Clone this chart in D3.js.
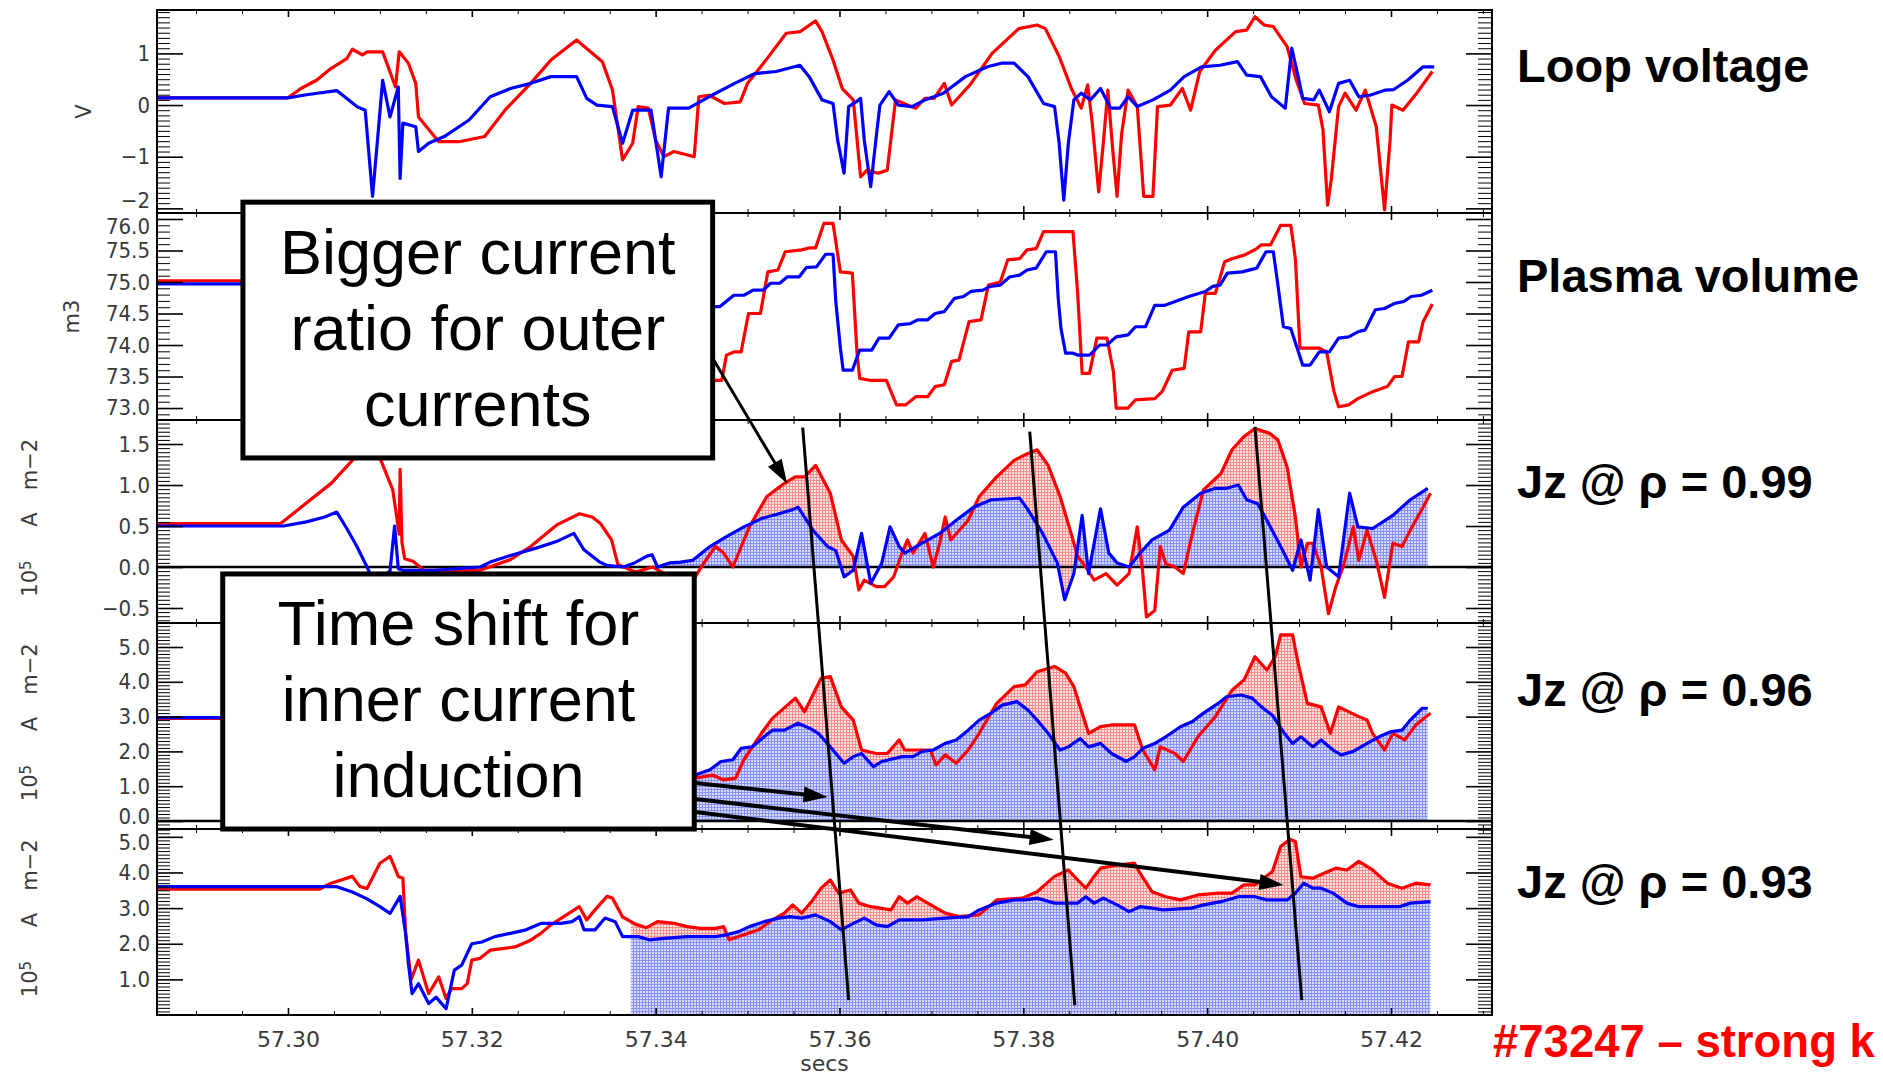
<!DOCTYPE html>
<html>
<head>
<meta charset="utf-8">
<script src="https://cdn.jsdelivr.net/npm/d3@7"></script>
<style>
  body { margin: 0; background: #fff; }
  svg { display: block; }
  .tick line { stroke: #000; }
  .ylab text { font-family: "Liberation Sans Narrow", "DejaVu Sans Condensed", sans-serif; font-size: 22px; fill: #3a3a3a; }
  .xlab text { font-family: "DejaVu Sans", sans-serif; font-size: 22px; fill: #3a3a3a; }
  .unit { font-family: "DejaVu Sans", sans-serif; font-size: 21px; fill: #3a3a3a; }
  .name { font-family: "Liberation Sans", Arial, sans-serif; font-weight: bold; font-size: 47px; fill: #000; }
  .note { font-family: "Liberation Sans", Arial, sans-serif; font-size: 63px; fill: #000; }
</style>
</head>
<body>
<svg width="1883" height="1077"></svg>
<script>
// time axis (secs)
var timeTicks = [57.30, 57.32, 57.34, 57.36, 57.38, 57.40, 57.42];

// y tick values per panel
var loopTicks = [-2, -1, 0, 1];
var volTicks = [73.0, 73.5, 74.0, 74.5, 75.0, 75.5, 76.0];
var jz99Ticks = [-0.5, 0.0, 0.5, 1.0, 1.5];
var jz96Ticks = [0, 1, 2, 3, 4, 5];
var jz93Ticks = [1, 2, 3, 4, 5];

var panelNames = ["Loop voltage", "Plasma volume", "Jz @ \u03c1 = 0.99", "Jz @ \u03c1 = 0.96", "Jz @ \u03c1 = 0.93"];
var shotLabel = "#73247 \u2013 strong k";

// [time (s), value]
var loopRed = [[57.2858,0.14],[57.3000,0.14],[57.3014,0.32],[57.3031,0.48],[57.3047,0.71],[57.3064,0.90],[57.3070,1.08],[57.3081,0.97],[57.3086,1.03],[57.3103,1.03],[57.3117,0.35],[57.3121,1.03],[57.3131,0.81],[57.3139,0.42],[57.3142,-0.23],[57.3164,-0.71],[57.3186,-0.71],[57.3214,-0.61],[57.3236,-0.10],[57.3264,0.42],[57.3286,0.87],[57.3314,1.26],[57.3342,0.84],[57.3353,0.29],[57.3364,-1.06],[57.3375,-0.74],[57.3381,-0.03],[57.3392,-0.06],[57.3400,-0.68],[57.3409,-1.00],[57.3420,-0.90],[57.3442,-1.00],[57.3447,0.16],[57.3458,0.19],[57.3475,0.03],[57.3492,0.06],[57.3500,0.42],[57.3520,0.87],[57.3542,1.39],[57.3557,1.42],[57.3574,1.63],[57.3581,1.42],[57.3593,0.87],[57.3603,0.32],[57.3615,0.10],[57.3623,-1.39],[57.3630,-1.26],[57.3642,-1.32],[57.3652,-1.26],[57.3661,0.10],[57.3674,0.00],[57.3683,-0.06],[57.3693,0.13],[57.3703,0.13],[57.3714,0.42],[57.3722,0.00],[57.3742,0.39],[57.3766,1.00],[57.3795,1.48],[57.3815,1.55],[57.3824,1.48],[57.3839,0.94],[57.3853,0.29],[57.3863,-0.06],[57.3870,0.39],[57.3875,-0.35],[57.3882,-1.68],[57.3888,-0.55],[57.3892,0.29],[57.3897,-0.81],[57.3902,-1.77],[57.3907,-0.55],[57.3914,0.29],[57.3924,-0.03],[57.3931,-1.77],[57.3941,-1.77],[57.3946,-0.03],[57.3960,0.00],[57.3973,0.32],[57.3982,-0.10],[57.3992,0.65],[57.4009,1.06],[57.4031,1.42],[57.4043,1.45],[57.4052,1.71],[57.4062,1.55],[57.4072,1.52],[57.4087,1.13],[57.4097,0.48],[57.4106,0.03],[57.4121,0.00],[57.4126,-0.48],[57.4131,-1.94],[57.4135,-1.45],[57.4143,-0.03],[57.4150,0.23],[57.4162,-0.10],[57.4172,0.29],[57.4184,-0.42],[57.4193,-2.03],[57.4199,-0.68],[57.4201,0.00],[57.4213,-0.10],[57.4228,0.23],[57.4245,0.65]];
var loopBlue = [[57.2858,0.14],[57.3000,0.14],[57.3020,0.20],[57.3053,0.28],[57.3075,-0.03],[57.3084,-0.10],[57.3092,-1.77],[57.3098,-0.55],[57.3103,0.48],[57.3111,-0.23],[57.3120,0.35],[57.3122,-1.42],[57.3125,-0.35],[57.3139,-0.42],[57.3142,-0.90],[57.3153,-0.74],[57.3170,-0.61],[57.3197,-0.29],[57.3220,0.16],[57.3242,0.32],[57.3264,0.42],[57.3286,0.55],[57.3314,0.55],[57.3325,0.13],[57.3336,0.00],[57.3353,-0.03],[57.3364,-0.74],[57.3375,-0.10],[57.3395,-0.10],[57.3406,-1.39],[57.3414,-0.06],[57.3436,-0.06],[57.3458,0.16],[57.3486,0.42],[57.3508,0.61],[57.3531,0.65],[57.3557,0.77],[57.3567,0.55],[57.3581,0.10],[57.3593,0.03],[57.3598,-0.68],[57.3605,-1.32],[57.3610,-0.03],[57.3618,0.06],[57.3623,0.13],[57.3627,-0.68],[57.3634,-1.58],[57.3640,-0.61],[57.3644,0.00],[57.3654,0.26],[57.3664,0.00],[57.3679,-0.03],[57.3693,0.10],[57.3713,0.23],[57.3737,0.55],[57.3761,0.74],[57.3776,0.81],[57.3790,0.81],[57.3805,0.55],[57.3822,0.03],[57.3834,-0.03],[57.3839,-0.74],[57.3844,-1.84],[57.3849,-0.74],[57.3855,0.10],[57.3863,0.23],[57.3873,0.10],[57.3884,0.32],[57.3895,-0.06],[57.3905,-0.06],[57.3914,0.16],[57.3924,-0.03],[57.3941,0.10],[57.3960,0.29],[57.3975,0.55],[57.3994,0.74],[57.4014,0.77],[57.4033,0.84],[57.4043,0.58],[57.4058,0.55],[57.4070,0.16],[57.4085,-0.06],[57.4092,1.10],[57.4099,0.55],[57.4104,0.13],[57.4116,0.10],[57.4122,0.29],[57.4133,-0.13],[57.4143,0.42],[57.4155,0.48],[57.4165,0.16],[57.4177,0.19],[57.4194,0.29],[57.4203,0.30],[57.4218,0.48],[57.4235,0.74],[57.4247,0.74]];

var volRed = [[57.2858,75.02],[57.2960,75.02],[57.3440,73.44],[57.3462,73.44],[57.3472,73.44],[57.3477,73.84],[57.3485,73.89],[57.3493,73.89],[57.3501,74.50],[57.3514,74.50],[57.3522,75.16],[57.3533,75.19],[57.3541,75.48],[57.3559,75.51],[57.3567,75.54],[57.3574,75.54],[57.3583,75.93],[57.3593,75.93],[57.3601,75.16],[57.3614,75.14],[57.3619,73.89],[57.3622,73.47],[57.3633,73.44],[57.3651,73.44],[57.3662,73.05],[57.3672,73.05],[57.3683,73.18],[57.3696,73.18],[57.3704,73.34],[57.3714,73.37],[57.3722,73.74],[57.3730,73.76],[57.3741,74.37],[57.3754,74.40],[57.3762,74.95],[57.3775,75.00],[57.3783,75.35],[57.3796,75.37],[57.3804,75.51],[57.3814,75.53],[57.3822,75.80],[57.3854,75.80],[57.3859,74.85],[57.3864,73.55],[57.3872,73.55],[57.3880,74.11],[57.3891,74.11],[57.3898,73.58],[57.3901,73.00],[57.3914,73.00],[57.3922,73.13],[57.3943,73.15],[57.3951,73.26],[57.3962,73.60],[57.3975,73.63],[57.3980,74.21],[57.3993,74.21],[57.3998,74.82],[57.4009,74.82],[57.4019,75.32],[57.4027,75.37],[57.4041,75.43],[57.4054,75.53],[57.4059,75.59],[57.4069,75.59],[57.4080,75.90],[57.4091,75.90],[57.4096,75.37],[57.4101,73.95],[57.4122,73.95],[57.4130,73.89],[57.4138,73.26],[57.4143,73.02],[57.4154,73.05],[57.4164,73.15],[57.4180,73.26],[57.4196,73.34],[57.4204,73.50],[57.4212,73.50],[57.4219,74.05],[57.4230,74.05],[57.4235,74.37],[57.4245,74.65]];
var volBlue = [[57.2858,74.97],[57.2960,74.97],[57.3440,74.61],[57.3470,74.61],[57.3485,74.79],[57.3496,74.79],[57.3506,74.87],[57.3517,74.87],[57.3525,74.98],[57.3535,74.98],[57.3543,75.08],[57.3556,75.08],[57.3564,75.23],[57.3575,75.24],[57.3585,75.44],[57.3593,75.44],[57.3596,74.69],[57.3601,73.95],[57.3604,73.60],[57.3614,73.60],[57.3622,73.92],[57.3635,73.92],[57.3643,74.11],[57.3654,74.11],[57.3664,74.32],[57.3677,74.34],[57.3685,74.40],[57.3696,74.40],[57.3704,74.50],[57.3714,74.53],[57.3725,74.74],[57.3735,74.77],[57.3743,74.85],[57.3756,74.87],[57.3764,74.93],[57.3775,74.95],[57.3785,75.08],[57.3796,75.11],[57.3804,75.19],[57.3814,75.22],[57.3825,75.48],[57.3835,75.48],[57.3838,74.74],[57.3841,74.26],[57.3846,73.87],[57.3854,73.87],[57.3859,73.84],[57.3872,73.84],[57.3883,74.00],[57.3891,74.00],[57.3901,74.13],[57.3914,74.16],[57.3922,74.29],[57.3933,74.29],[57.3943,74.63],[57.3954,74.63],[57.3969,74.71],[57.3980,74.77],[57.3998,74.85],[57.4006,74.93],[57.4014,74.95],[57.4022,75.14],[57.4038,75.16],[57.4054,75.22],[57.4064,75.48],[57.4072,75.48],[57.4077,74.95],[57.4083,74.29],[57.4091,74.26],[57.4098,73.95],[57.4104,73.68],[57.4112,73.68],[57.4122,73.89],[57.4133,73.89],[57.4143,74.11],[57.4154,74.13],[57.4164,74.21],[57.4172,74.24],[57.4183,74.56],[57.4193,74.58],[57.4204,74.66],[57.4214,74.69],[57.4222,74.77],[57.4233,74.79],[57.4245,74.87]];

var jz99Red = [[57.2858,0.53],[57.2992,0.53],[57.3020,0.78],[57.3047,1.02],[57.3070,1.30],[57.3085,1.60],[57.3100,1.33],[57.3114,0.94],[57.3121,0.40],[57.3122,1.19],[57.3124,0.30],[57.3127,0.10],[57.3136,0.07],[57.3148,-0.04],[57.3209,-0.04],[57.3242,0.09],[57.3264,0.25],[57.3292,0.51],[57.3317,0.65],[57.3331,0.61],[57.3340,0.53],[57.3352,0.33],[57.3359,0.03],[57.3378,-0.06],[57.3397,0.00],[57.3420,-0.15],[57.3443,-0.12],[57.3452,0.04],[57.3465,0.25],[57.3474,0.17],[57.3484,0.00],[57.3502,0.49],[57.3521,0.86],[57.3540,1.02],[57.3552,1.10],[57.3562,1.10],[57.3574,1.24],[57.3590,0.90],[57.3602,0.33],[57.3615,0.13],[57.3621,-0.28],[57.3627,-0.16],[57.3640,-0.24],[57.3649,-0.24],[57.3659,-0.12],[57.3668,0.17],[57.3674,0.33],[57.3680,0.17],[57.3693,0.41],[57.3702,0.00],[57.3709,0.29],[57.3715,0.61],[57.3721,0.33],[57.3740,0.57],[57.3752,0.86],[57.3771,1.10],[57.3790,1.30],[57.3802,1.37],[57.3815,1.43],[57.3827,1.24],[57.3840,0.86],[57.3852,0.41],[57.3859,0.13],[57.3868,0.00],[57.3877,-0.16],[57.3890,-0.08],[57.3902,-0.22],[57.3915,-0.08],[57.3924,0.49],[57.3930,-0.08],[57.3934,-0.61],[57.3943,-0.53],[57.3949,0.25],[57.3955,0.04],[57.3965,0.00],[57.3974,-0.08],[57.3984,0.41],[57.3996,0.94],[57.4015,1.14],[57.4027,1.43],[57.4040,1.59],[57.4052,1.69],[57.4068,1.63],[57.4077,1.55],[57.4087,1.22],[57.4096,0.61],[57.4102,0.00],[57.4109,0.29],[57.4115,0.29],[57.4124,0.00],[57.4132,-0.57],[57.4140,-0.24],[57.4149,0.04],[57.4159,0.49],[57.4165,0.08],[57.4174,0.45],[57.4184,0.08],[57.4193,-0.37],[57.4202,0.29],[57.4212,0.25],[57.4221,0.45],[57.4233,0.69],[57.4243,0.90]];
var jz99Blue = [[57.2858,0.50],[57.2995,0.50],[57.3020,0.55],[57.3040,0.61],[57.3053,0.67],[57.3064,0.47],[57.3075,0.25],[57.3086,0.00],[57.3092,-0.15],[57.3105,-0.10],[57.3111,-0.05],[57.3116,0.50],[57.3120,-0.02],[57.3125,-0.04],[57.3159,-0.04],[57.3209,0.00],[57.3220,0.06],[57.3242,0.14],[57.3270,0.23],[57.3292,0.31],[57.3311,0.41],[57.3322,0.21],[57.3339,0.06],[57.3347,0.02],[57.3365,0.00],[57.3377,0.05],[57.3390,0.13],[57.3396,0.15],[57.3402,0.00],[57.3415,0.05],[57.3427,0.06],[57.3440,0.08],[57.3459,0.25],[57.3477,0.37],[57.3496,0.49],[57.3515,0.59],[57.3534,0.65],[57.3549,0.70],[57.3555,0.73],[57.3571,0.45],[57.3587,0.25],[57.3596,0.20],[57.3605,-0.12],[57.3615,-0.04],[57.3624,0.41],[57.3634,-0.20],[57.3646,0.05],[57.3655,0.49],[57.3665,0.25],[57.3671,0.17],[57.3690,0.29],[57.3709,0.41],[57.3727,0.57],[57.3746,0.73],[57.3765,0.82],[57.3796,0.84],[57.3805,0.70],[57.3821,0.41],[57.3837,0.05],[57.3845,-0.40],[57.3855,-0.08],[57.3864,0.63],[57.3871,-0.08],[57.3884,0.71],[57.3893,0.17],[57.3902,0.05],[57.3915,0.00],[57.3927,0.17],[57.3940,0.33],[57.3959,0.45],[57.3974,0.73],[57.3993,0.90],[57.4009,0.96],[57.4021,0.96],[57.4034,1.00],[57.4043,0.82],[57.4055,0.77],[57.4065,0.57],[57.4080,0.25],[57.4093,-0.04],[57.4102,0.33],[57.4112,-0.16],[57.4121,0.70],[57.4130,0.00],[57.4143,-0.12],[57.4155,0.90],[57.4164,0.49],[57.4180,0.47],[57.4202,0.63],[57.4221,0.82],[57.4240,0.96]];

var jz96Red = [[57.2858,2.95],[57.2930,2.95],[57.3380,1.20],[57.3443,1.23],[57.3462,1.32],[57.3474,1.18],[57.3487,1.23],[57.3496,1.76],[57.3515,2.52],[57.3527,2.95],[57.3552,3.53],[57.3562,3.14],[57.3580,4.10],[57.3590,4.15],[57.3602,3.28],[57.3615,2.90],[57.3624,2.04],[57.3640,1.94],[57.3652,1.94],[57.3665,2.33],[57.3671,2.04],[57.3699,2.04],[57.3705,1.61],[57.3715,1.90],[57.3727,1.66],[57.3740,2.04],[57.3752,2.52],[57.3771,3.38],[57.3790,3.86],[57.3802,3.91],[57.3815,4.29],[57.3834,4.44],[57.3846,4.25],[57.3855,3.86],[57.3871,2.52],[57.3884,2.71],[57.3896,2.76],[57.3921,2.76],[57.3930,2.04],[57.3943,1.47],[57.3949,2.13],[57.3965,1.94],[57.3974,1.71],[57.3990,2.42],[57.4009,3.00],[57.4027,3.76],[57.4040,4.05],[57.4052,4.72],[57.4065,4.34],[57.4074,4.72],[57.4080,5.35],[57.4093,5.35],[57.4099,4.53],[57.4109,3.38],[57.4124,3.28],[57.4134,2.52],[57.4143,3.28],[57.4165,3.00],[57.4174,2.90],[57.4180,2.52],[57.4193,2.04],[57.4202,2.52],[57.4215,2.33],[57.4227,2.76],[57.4243,3.10]];
var jz96Blue = [[57.2858,2.97],[57.2930,2.97],[57.3380,1.10],[57.3443,1.32],[57.3459,1.47],[57.3471,1.71],[57.3484,1.76],[57.3493,2.09],[57.3505,2.13],[57.3518,2.42],[57.3527,2.61],[57.3540,2.61],[57.3555,2.81],[57.3568,2.66],[57.3577,2.52],[57.3590,2.13],[57.3605,1.66],[57.3615,1.85],[57.3624,1.94],[57.3637,1.56],[57.3646,1.71],[57.3668,1.85],[57.3680,1.85],[57.3690,2.00],[57.3702,2.04],[57.3715,2.23],[57.3727,2.33],[57.3740,2.61],[57.3752,2.90],[57.3765,3.10],[57.3777,3.33],[57.3793,3.43],[57.3805,3.19],[57.3815,2.90],[57.3827,2.52],[57.3840,2.04],[57.3849,2.13],[57.3862,2.37],[57.3871,2.13],[57.3884,2.23],[57.3896,1.94],[57.3912,1.71],[57.3921,1.85],[57.3930,2.09],[57.3943,2.23],[57.3955,2.42],[57.3971,2.71],[57.3984,2.86],[57.3996,3.10],[57.4012,3.38],[57.4021,3.57],[57.4037,3.62],[57.4049,3.53],[57.4059,3.28],[57.4071,3.04],[57.4084,2.52],[57.4093,2.23],[57.4102,2.42],[57.4115,2.13],[57.4124,2.33],[57.4137,2.04],[57.4146,1.90],[57.4159,2.00],[57.4174,2.23],[57.4187,2.42],[57.4199,2.56],[57.4212,2.61],[57.4221,2.90],[57.4234,3.24],[57.4240,3.24]];

var jz93Red = [[57.2858,3.53],[57.3034,3.53],[57.3047,3.70],[57.3070,3.89],[57.3078,3.61],[57.3086,3.55],[57.3100,4.26],[57.3111,4.45],[57.3120,3.89],[57.3125,3.84],[57.3128,2.29],[57.3134,1.00],[57.3142,1.54],[57.3153,0.60],[57.3164,1.07],[57.3172,0.46],[57.3178,0.74],[57.3189,0.74],[57.3195,0.88],[57.3200,1.54],[57.3209,1.59],[57.3220,1.82],[57.3247,1.91],[57.3264,2.10],[57.3275,2.29],[57.3286,2.53],[57.3297,2.71],[57.3317,3.04],[57.3325,2.67],[57.3334,2.95],[57.3347,3.33],[57.3353,3.28],[57.3364,2.75],[57.3378,2.55],[57.3390,2.45],[57.3402,2.62],[57.3421,2.57],[57.3434,2.48],[57.3449,2.43],[57.3465,2.43],[57.3474,2.48],[57.3480,2.11],[57.3496,2.25],[57.3512,2.39],[57.3527,2.67],[57.3540,2.86],[57.3549,3.09],[57.3559,2.86],[57.3571,3.23],[57.3580,3.56],[57.3590,3.79],[57.3599,3.42],[57.3612,3.51],[57.3621,3.14],[57.3634,3.04],[57.3656,2.95],[57.3665,3.32],[57.3674,3.14],[57.3684,3.32],[57.3696,3.14],[57.3715,2.86],[57.3730,2.76],[57.3752,2.81],[57.3771,3.23],[57.3799,3.28],[57.3815,3.46],[57.3834,3.89],[57.3849,4.07],[57.3859,3.79],[57.3868,3.56],[57.3877,3.89],[57.3884,4.12],[57.3902,4.21],[57.3921,4.26],[57.3927,3.98],[57.3940,3.46],[57.3955,3.32],[57.3971,3.23],[57.3990,3.37],[57.4012,3.42],[57.4027,3.42],[57.4040,3.65],[57.4052,3.65],[57.4071,4.03],[57.4080,4.73],[57.4090,4.93],[57.4096,4.87],[57.4102,3.88],[57.4115,3.84],[57.4127,3.98],[57.4140,4.12],[57.4152,4.07],[57.4165,4.31],[57.4180,4.07],[57.4196,3.70],[57.4212,3.56],[57.4227,3.70],[57.4243,3.65]];
var jz93Blue = [[57.2858,3.60],[57.3053,3.60],[57.3070,3.45],[57.3086,3.26],[57.3100,3.04],[57.3111,2.85],[57.3122,3.33],[57.3128,2.29],[57.3131,1.45],[57.3135,0.60],[57.3142,0.88],[57.3153,0.32],[57.3161,0.50],[57.3172,0.18],[57.3181,1.26],[57.3189,1.40],[57.3200,2.00],[57.3211,2.05],[57.3225,2.20],[57.3242,2.29],[57.3259,2.39],[57.3275,2.57],[57.3297,2.57],[57.3309,2.62],[57.3317,2.76],[57.3322,2.39],[57.3334,2.39],[57.3345,2.72],[57.3356,2.62],[57.3364,2.20],[57.3381,2.20],[57.3393,2.11],[57.3409,2.15],[57.3434,2.20],[57.3465,2.20],[57.3477,2.25],[57.3490,2.34],[57.3502,2.48],[57.3518,2.62],[57.3534,2.72],[57.3546,2.76],[57.3559,2.72],[57.3574,2.81],[57.3590,2.62],[57.3602,2.39],[57.3615,2.57],[57.3627,2.72],[57.3640,2.53],[57.3652,2.48],[57.3665,2.67],[57.3690,2.67],[57.3715,2.72],[57.3740,2.76],[57.3752,2.95],[57.3771,3.14],[57.3790,3.23],[57.3802,3.23],[57.3815,3.28],[57.3834,3.14],[57.3859,3.14],[57.3868,3.32],[57.3877,3.14],[57.3887,3.28],[57.3902,3.09],[57.3915,2.90],[57.3927,3.04],[57.3940,3.00],[57.3952,2.95],[57.3983,3.00],[57.3996,3.09],[57.4015,3.18],[57.4034,3.32],[57.4052,3.32],[57.4065,3.23],[57.4087,3.23],[57.4096,3.42],[57.4105,3.70],[57.4115,3.56],[57.4124,3.56],[57.4137,3.42],[57.4152,3.14],[57.4165,3.04],[57.4209,3.04],[57.4221,3.14],[57.4243,3.18]];

// annotations, anchored as [panel index, time, value]
var noteBoxes = [
  {lines: ["Bigger current", "ratio for outer", "currents"], from: [0, 57.2951, -1.88], to: [2, 57.3462, 1.33]},
  {lines: ["Time shift for", "inner current", "induction"], from: [2, 57.2929, -0.085], to: [3, 57.3442, -0.23]}
];
var noteArrows = [
  {from: [1, 57.3462, 73.79], to: [2, 57.3543, 1.02], w: 3},
  {from: [3, 57.3443, 1.09], to: [3, 57.3587, 0.69], w: 4},
  {from: [3, 57.3443, 0.63], to: [4, 57.3833, 4.92], w: 4},
  {from: [3, 57.3443, 0.26], to: [4, 57.4083, 3.65], w: 4}
];
var guideLines = [
  {from: [2, 57.3560, 1.70], to: [4, 57.3610, 0.42]},
  {from: [2, 57.3807, 1.65], to: [4, 57.3856, 0.28]},
  {from: [2, 57.4052, 1.71], to: [4, 57.4103, 0.42]}
];

var svg = d3.select("svg"),
    width = +svg.attr("width"),
    height = +svg.attr("height");

var left = 157, right = 1492;
var x = d3.scaleLinear().domain([57.28575, 57.43099]).range([left, right]);

var panels = [
  {red: loopRed, blue: loopBlue, top: 10, bottom: 213, domain: [-2.09, 1.84], ticks: loopTicks, fmt: "d", minor: 0.1, unit: "V", unitX: 84, nameAt: 0.45},
  {red: volRed, blue: volBlue, top: 213, bottom: 420, domain: [72.81, 76.095], ticks: volTicks, fmt: ".1f", minor: 0.1, unit: "m3", unitX: 72, nameAt: 74.84},
  {red: jz99Red, blue: jz99Blue, top: 420, bottom: 623, domain: [-0.683, 1.793], ticks: jz99Ticks, fmt: ".1f", minor: 0.05, zero: true, fillFrom: 57.3400, nameAt: 0.84},
  {red: jz96Red, blue: jz96Blue, top: 623, bottom: 829, domain: [-0.23, 5.69], ticks: jz96Ticks, fmt: ".1f", minor: 0.1, zero: true, fillFrom: 57.3380, nameAt: 3.30},
  {red: jz93Red, blue: jz93Blue, top: 829, bottom: 1015, domain: [0, 5.22], ticks: jz93Ticks, fmt: ".1f", minor: 0.1, fillFrom: 57.3373, nameAt: 3.29}
];

var defs = svg.append("defs");

function hatch(id, bg, fg) {
  var p = defs.append("pattern").attr("id", id)
      .attr("width", 3).attr("height", 3)
      .attr("patternUnits", "userSpaceOnUse");
  p.append("rect").attr("width", 3).attr("height", 3).attr("fill", bg);
  p.append("path").attr("d", "M0,0.5H3M0.5,0V3").attr("stroke", fg).attr("stroke-width", 1);
}
hatch("hatchBlue", "#d8dafc", "#8890f0");
hatch("hatchRed", "#fde2e2", "#f29090");

function lerp(series) {
  var bis = d3.bisector(function(d) { return d[0]; }).right;
  return function(t) {
    var i = bis(series, t);
    if (i <= 0) return series[0][1];
    if (i >= series.length) return series[series.length - 1][1];
    var a = series[i - 1], b = series[i];
    return a[1] + (b[1] - a[1]) * (t - a[0]) / (b[0] - a[0]);
  };
}

// region between two series where hi is above lo: [t, lo, max(hi, lo)]
function band(lo, hi, t0, t1) {
  var fl = lerp(lo), fh = lerp(hi);
  var ts = lo.concat(hi).map(function(d) { return d[0]; })
      .filter(function(t) { return t > t0 && t < t1; });
  ts.push(t0, t1);
  ts = Array.from(new Set(ts)).sort(d3.ascending);
  var out = [];
  ts.forEach(function(t, k) {
    var gap = fh(t) - fl(t);
    if (k > 0) {
      var tp = ts[k - 1], gp = fh(tp) - fl(tp);
      if (gp * gap < 0) {
        var tc = tp + (t - tp) * gp / (gp - gap);
        out.push([tc, fl(tc), fl(tc)]);
      }
    }
    out.push([t, fl(t), Math.max(fh(t), fl(t))]);
  });
  return out;
}

function minorValues(domain, step, majors) {
  var a = Math.ceil(domain[0] / step), b = Math.floor(domain[1] / step);
  return d3.range(a, b + 1).map(function(k) { return +(k * step).toFixed(4); })
      .filter(function(v) { return majors.indexOf(v) < 0; });
}

var timeMinor = minorValues(x.domain(), 0.005, timeTicks);

function noDomain(g) { g.select(".domain").remove(); }

panels.forEach(function(p, i) {
  p.y = d3.scaleLinear().domain(p.domain).range([p.bottom, p.top]);

  defs.append("clipPath").attr("id", "clip" + i)
    .append("rect")
      .attr("x", left).attr("y", p.top)
      .attr("width", right - left).attr("height", p.bottom - p.top);

  var g = svg.append("g").attr("clip-path", "url(#clip" + i + ")");

  if (p.fillFrom) {
    var end = Math.min(p.red[p.red.length - 1][0], p.blue[p.blue.length - 1][0]);
    var zeroLine = [[p.fillFrom, 0], [end, 0]];
    var area = d3.area()
        .x(function(d) { return x(d[0]); })
        .y0(function(d) { return p.y(d[1]); })
        .y1(function(d) { return p.y(d[2]); });
    g.append("path").datum(band(zeroLine, p.blue, p.fillFrom, end))
        .attr("d", area).attr("fill", "url(#hatchBlue)");
    g.append("path").datum(band(p.blue, p.red, p.fillFrom, end))
        .attr("d", area).attr("fill", "url(#hatchRed)");
  }

  if (p.zero) {
    g.append("line")
        .attr("x1", left).attr("x2", right)
        .attr("y1", p.y(0)).attr("y2", p.y(0))
        .attr("stroke", "#000").attr("stroke-width", 2.5);
  }

  var line = d3.line()
      .x(function(d) { return x(d[0]); })
      .y(function(d) { return p.y(d[1]); });

  g.append("path").datum(p.red)
      .attr("d", line).attr("fill", "none")
      .attr("stroke", "#ff0000").attr("stroke-width", 3.2)
      .attr("stroke-linejoin", "round");
  g.append("path").datum(p.blue)
      .attr("d", line).attr("fill", "none")
      .attr("stroke", "#0000ff").attr("stroke-width", 3.2)
      .attr("stroke-linejoin", "round");

  // axes, IDL style: ticks pointing inward on all four sides
  var minors = minorValues(p.domain, p.minor, p.ticks);

  var yl = svg.append("g").attr("class", "ylab")
      .attr("transform", "translate(" + left + ",0)")
      .call(d3.axisLeft(p.y).tickValues(p.ticks).tickSize(-26).tickPadding(7)
          .tickFormat(d3.format(p.fmt)))
      .call(noDomain);
  yl.selectAll("line").attr("stroke-width", 1.6);
  // keep labels sitting on a panel edge from running into the neighbour's
  yl.selectAll("text").attr("y", function(d) {
    var py = p.y(d);
    if (py - p.top < 13) return 13 - (py - p.top);
    if (p.bottom - py < 13) return -(13 - (p.bottom - py));
    return 0;
  });
  svg.append("g")
      .attr("transform", "translate(" + left + ",0)")
      .call(d3.axisLeft(p.y).tickValues(minors).tickSize(-13).tickFormat(""))
      .call(noDomain);
  svg.append("g")
      .attr("transform", "translate(" + right + ",0)")
      .call(d3.axisRight(p.y).tickValues(p.ticks).tickSize(-26).tickFormat(""))
      .call(noDomain)
      .selectAll("line").attr("stroke-width", 1.6);
  svg.append("g")
      .attr("transform", "translate(" + right + ",0)")
      .call(d3.axisRight(p.y).tickValues(minors).tickSize(-14).tickFormat(""))
      .call(noDomain);

  svg.append("g")
      .attr("transform", "translate(0," + p.top + ")")
      .call(d3.axisTop(x).tickValues(timeTicks).tickSize(-7).tickFormat(""))
      .call(noDomain)
      .selectAll("line").attr("stroke-width", 1.6);
  svg.append("g")
      .attr("transform", "translate(0," + p.top + ")")
      .call(d3.axisTop(x).tickValues(timeMinor).tickSize(-4).tickFormat(""))
      .call(noDomain);

  var last = i === panels.length - 1;
  svg.append("g").attr("class", "xlab")
      .attr("transform", "translate(0," + p.bottom + ")")
      .call(d3.axisBottom(x).tickValues(timeTicks).tickSize(-7).tickPadding(16)
          .tickFormat(last ? d3.format(".2f") : ""))
      .call(noDomain)
      .selectAll("line").attr("stroke-width", 1.6);
  svg.append("g")
      .attr("transform", "translate(0," + p.bottom + ")")
      .call(d3.axisBottom(x).tickValues(timeMinor).tickSize(-4).tickFormat(""))
      .call(noDomain);

  svg.append("rect")
      .attr("x", left).attr("y", p.top)
      .attr("width", right - left).attr("height", p.bottom - p.top)
      .attr("fill", "none").attr("stroke", "#000").attr("stroke-width", 2);

  // y-axis title
  var cy = (p.top + p.bottom) / 2;
  if (p.unit) {
    svg.append("text").attr("class", "unit")
        .attr("transform", "translate(" + p.unitX + "," + cy + ") rotate(-90)")
        .attr("text-anchor", "middle").attr("dy", "0.35em")
        .text(p.unit);
  } else {
    var u = svg.append("g").attr("transform", "translate(30," + cy + ") rotate(-90)");
    var t1 = u.append("text").attr("class", "unit").attr("x", -57)
        .attr("text-anchor", "middle").attr("dy", "0.35em");
    t1.append("tspan").text("10");
    t1.append("tspan").attr("dy", "-0.45em").attr("font-size", "15px").text("5");
    u.append("text").attr("class", "unit").attr("x", 2)
        .attr("text-anchor", "middle").attr("dy", "0.35em").text("A");
    u.append("text").attr("class", "unit").attr("x", 57)
        .attr("text-anchor", "middle").attr("dy", "0.35em").text("m\u22122");
  }

  // panel name on the right
  svg.append("text").attr("class", "name")
      .attr("x", right + 25).attr("y", p.y(p.nameAt))
      .text(panelNames[i]);
});

svg.append("text")
    .attr("x", (left + right) / 2).attr("y", 1071)
    .attr("text-anchor", "middle")
    .style("font-family", "DejaVu Sans, sans-serif").style("font-size", "22px")
    .style("fill", "#3a3a3a")
    .text("secs");

svg.append("text").attr("class", "name")
    .attr("x", right + 1).attr("y", height - 20)
    .style("fill", "#ff0000").style("font-size", "45.5px")
    .text(shotLabel);

// annotation layer
function pt(a) { return [x(a[1]), panels[a[0]].y(a[2])]; }

var notes = svg.append("g");

guideLines.forEach(function(l) {
  var s = pt(l.from), e = pt(l.to);
  notes.append("line")
      .attr("x1", s[0]).attr("y1", s[1]).attr("x2", e[0]).attr("y2", e[1])
      .attr("stroke", "#000").attr("stroke-width", 3);
});

noteArrows.forEach(function(a) {
  var s = pt(a.from), e = pt(a.to);
  var dx = e[0] - s[0], dy = e[1] - s[1], len = Math.hypot(dx, dy);
  var ux = dx / len, uy = dy / len, hl = 24, hw = 8;
  var bx = e[0] - ux * hl, by = e[1] - uy * hl;
  notes.append("line")
      .attr("x1", s[0]).attr("y1", s[1]).attr("x2", bx + ux * 3).attr("y2", by + uy * 3)
      .attr("stroke", "#000").attr("stroke-width", a.w);
  notes.append("path")
      .attr("d", "M" + e + "L" + [bx - uy * hw, by + ux * hw] + "L" + [bx + uy * hw, by - ux * hw] + "Z")
      .attr("fill", "#000");
});

noteBoxes.forEach(function(b) {
  var s = pt(b.from), e = pt(b.to);
  var bw = e[0] - s[0], bh = e[1] - s[1];
  notes.append("rect")
      .attr("x", s[0]).attr("y", s[1]).attr("width", bw).attr("height", bh)
      .attr("fill", "#fff").attr("stroke", "#000").attr("stroke-width", 5);
  var cx = s[0] + bw / 2, cy = s[1] + bh / 2;
  b.lines.forEach(function(txt, k) {
    notes.append("text").attr("class", "note")
        .attr("x", cx).attr("y", cy + 20 + (k - 1) * 76)
        .attr("text-anchor", "middle")
        .text(txt);
  });
});
</script>
</body>
</html>
